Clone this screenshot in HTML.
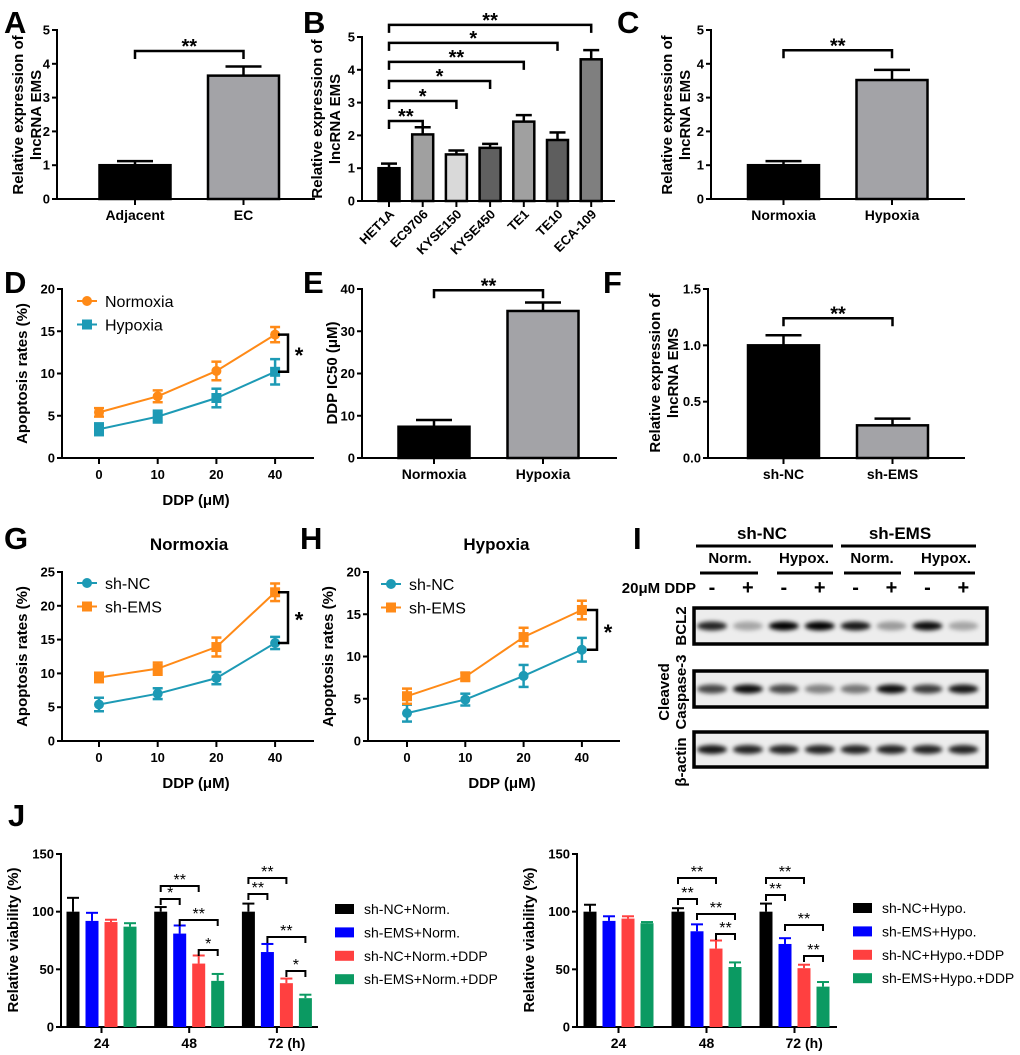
<!DOCTYPE html>
<html><head><meta charset="utf-8">
<style>
html,body{margin:0;padding:0;background:#fff;}
svg{display:block;font-family:"Liberation Sans",Arial,sans-serif;}
</style></head>
<body>
<svg id="fig" width="1020" height="1055" viewBox="0 0 1020 1055" xmlns="http://www.w3.org/2000/svg">
<defs><filter id="blur" x="-50%" y="-100%" width="200%" height="300%"><feGaussianBlur stdDeviation="2.2"/></filter></defs>
</svg>
<script>
// ---------- data ----------
const aCats=['Adjacent','EC']; const aVals=[1,3.65]; const aErrs=[0.12,0.27];
const bCats=['HET1A','EC9706','KYSE150','KYSE450','TE1','TE10','ECA-109'];
const bVals=[1,2.03,1.42,1.62,2.42,1.86,4.32]; const bErrs=[0.14,0.22,0.12,0.12,0.2,0.23,0.28];
const bSig=['**','*','*','**','*','**']; const bSigLevels=[2.44,3.05,3.66,4.24,4.82,5.37];
const cCats=['Normoxia','Hypoxia']; const cVals=[1,3.52]; const cErrs=[0.12,0.3];
const eCats=['Normoxia','Hypoxia']; const eVals=[7.4,34.8]; const eErrs=[1.6,2.0];
const fCats=['sh-NC','sh-EMS']; const fVals=[1.0,0.29]; const fErrs=[0.09,0.06];
const doses=['0','10','20','40'];
const dNorm=[5.4,7.3,10.3,14.6]; const dNormErr=[0.5,0.7,1.1,0.9];
const dHyp=[3.4,4.9,7.1,10.2]; const dHypErr=[0.7,0.7,1.1,1.5];
const gNC=[5.4,7.0,9.3,14.5]; const gNCErr=[1.0,0.8,0.9,0.9];
const gEMS=[9.4,10.7,13.9,22.0]; const gEMSErr=[0.7,0.9,1.4,1.3];
const hNC=[3.3,4.9,7.7,10.8]; const hNCErr=[1.0,0.7,1.3,1.4];
const hEMS=[5.3,7.6,12.3,15.5]; const hEMSErr=[0.9,0.5,1.1,1.1];
const jTimes=['24','48','72 (h)'];
const jL1=[100,100,100], jL1e=[12,4,7];
const jL2=[92,81,65], jL2e=[7,7,7];
const jL3=[91,55,38], jL3e=[2,7,4];
const jL4=[87,40,25], jL4e=[3,6,3];
const jR1=[100,100,100], jR1e=[6,3,7];
const jR2=[92,83,72], jR2e=[4,6,5];
const jR3=[94,68,51], jR3e=[2,7,3];
const jR4=[90,52,35], jR4e=[1,4,4];
const jLegL=['sh-NC+Norm.','sh-EMS+Norm.','sh-NC+Norm.+DDP','sh-EMS+Norm.+DDP'];
const jLegR=['sh-NC+Hypo.','sh-EMS+Hypo.','sh-NC+Hypo.+DDP','sh-EMS+Hypo.+DDP'];
const jSigL=[[1,0,1,'*',899],[1,0,2,'**',886],[1,1,3,'**',920],[1,2,3,'*',950],[2,0,1,'**',894],[2,0,2,'**',878],[2,1,3,'**',937],[2,2,3,'*',971]];
const jSigR=[[1,0,1,'**',899],[1,0,2,'**',878],[1,1,3,'**',914],[1,2,3,'**',934],[2,0,1,'**',895],[2,0,2,'**',878],[2,1,3,'**',925],[2,2,3,'**',956]];
const bcl2=[0.85,0.3,1,1,0.9,0.35,0.95,0.3];
const casp=[0.7,0.95,0.7,0.45,0.5,0.95,0.75,0.9];
const actin=[0.9,0.85,0.85,0.85,0.85,0.85,0.85,0.85];
const ddp=['-','+','-','+','-','+','-','+'];

// ---------- helpers ----------
const svg=document.getElementById('fig'); const NS='http://www.w3.org/2000/svg';
function mk(tag,attrs,name){const el=document.createElementNS(NS,tag);for(const k in attrs)el.setAttribute(k,attrs[k]);


svg.appendChild(el);return el;}
function txt(x,y,s,size,name,opt){opt=opt||{};const t=mk('text',{x:x,y:y,'font-size':size,'font-weight':opt.w||'bold','text-anchor':opt.a||'middle',fill:opt.f||'#000'},name);if(opt.rot!==undefined)t.setAttribute('transform','rotate('+opt.rot+' '+x+' '+y+')');t.textContent=s;return t;}
function line(x1,y1,x2,y2,name,w,c){return mk('line',{x1:x1,y1:y1,x2:x2,y2:y2,stroke:c||'#000','stroke-width':w||2},name);}
function yAxis(ax,y0,yT,max,ticks,fmt,xEnd,id){
  const sc=v=>y0-v/max*(y0-yT);
  line(ax,yT-1,ax,y0,id+'-y-axis');line(ax-1,y0,xEnd,y0,id+'-x-axis');
  ticks.forEach(t=>{line(ax-5,sc(t),ax,sc(t),id+'-y-tick');txt(ax-7,sc(t)+4.5,fmt(t),13,id+'-y-tick-label',{a:'end'});});
  return sc;}
function bracket(x1,x2,y,s,name){mk('path',{d:'M'+x1+' '+(y+8)+'V'+y+'H'+x2+'V'+(y+8),fill:'none',stroke:'#000','stroke-width':2.5},name);txt((x1+x2)/2,y+2,s,20,name+'-stars');}
function ytitle(x,cy,lines,name,fs){lines.forEach((l,i)=>txt(x+i*18,cy,l,fs||15,name,{rot:-90}));}
function letter(x,y,s){txt(x,y,s,31,'panel-label-'+s,{a:'start'});}

function barPanel(c){
  const sc=yAxis(c.ax,c.y0,c.yT,c.max,c.ticks,c.fmt,c.xEnd,c.id);
  c.vals.forEach((v,i)=>{const cx=c.x0+i*c.step;
    const top=sc(v),et=sc(v+c.errs[i]);
    line(cx,top,cx,et,c.id+'-error-bar',2.5);line(cx-c.cap/2,et,cx+c.cap/2,et,c.id+'-error-cap',2.5);
    mk('rect',{x:cx-c.bw/2,y:top,width:c.bw,height:c.y0-top,fill:c.colors[i],stroke:'#000','stroke-width':2.5},c.id+'-bar-'+c.cats[i].toLowerCase());
    line(cx,c.y0,cx,c.y0+6,c.id+'-x-tick');
    if(c.rot){txt(cx+6,c.y0+14,c.cats[i],13,c.id+'-x-label',{a:'end',rot:-45});}
    else txt(cx,c.y0+21,c.cats[i],14,c.id+'-x-label');
  });
  return sc;}

// ---------- A ----------
letter(4,33,'A');
let sA=barPanel({id:'a',ax:57,y0:199,yT:30,max:5,ticks:[0,1,2,3,4,5],fmt:t=>t,xEnd:315,vals:aVals,errs:aErrs,cats:aCats,colors:['#000','#a3a3a7'],x0:135,step:108.5,bw:71,cap:36});
bracket(135,243.5,sA(4.38),'**','a-significance');
ytitle(23,115,['Relative expression of','lncRNA EMS'],'a-y-title');
// ---------- B ----------
letter(303,33,'B');
let sB=barPanel({id:'b',ax:362,y0:201,yT:37,max:5,ticks:[0,1,2,3,4,5],fmt:t=>t,xEnd:615,vals:bVals,errs:bErrs,cats:bCats,colors:['#000','#a0a0a0','#d9d9d9','#606060','#a0a0a0','#5e5e5e','#7f7f7f'],x0:389,step:33.7,bw:21,cap:16,rot:true});
bSig.forEach((s,i)=>bracket(389,389+(i+1)*33.7,sB(bSigLevels[i]),s,'b-significance'));
ytitle(322,119,['Relative expression of','lncRNA EMS'],'b-y-title');
// ---------- C ----------
letter(617,33,'C');
let sC=barPanel({id:'c',ax:711,y0:199,yT:30,max:5,ticks:[0,1,2,3,4,5],fmt:t=>t,xEnd:965,vals:cVals,errs:cErrs,cats:cCats,colors:['#000','#a3a3a7'],x0:783.5,step:108.5,bw:71,cap:36});
bracket(783.5,892,sC(4.4),'**','c-significance');
ytitle(672,115,['Relative expression of','lncRNA EMS'],'c-y-title');
// ---------- E ----------
letter(303,293,'E');
let sE=barPanel({id:'e',ax:362,y0:458,yT:289,max:40,ticks:[0,10,20,30,40],fmt:t=>t,xEnd:617,vals:eVals,errs:eErrs,cats:eCats,colors:['#000','#a3a3a7'],x0:434,step:109,bw:71,cap:36});
bracket(434,543,sE(39.7),'**','e-significance');
ytitle(337,373,['DDP IC50 (μM)'],'e-y-title');
// ---------- F ----------
letter(603,293,'F');
let sF=barPanel({id:'f',ax:708,y0:458,yT:289,max:1.5,ticks:[0,0.5,1,1.5],fmt:t=>t.toFixed(1),xEnd:965,vals:fVals,errs:fErrs,cats:fCats,colors:['#000','#a3a3a7'],x0:783.5,step:109,bw:71,cap:36});
bracket(783.5,892.5,sF(1.24),'**','f-significance');
ytitle(660,373,['Relative expression of','lncRNA EMS'],'f-y-title');

// ---------- line charts ----------
function linePanel(c){
  const sc=yAxis(c.ax,c.y0,c.yT,c.max,c.ticks,t=>t,c.xEnd,c.id);
  const xs=i=>c.x0+i*c.step;
  doses.forEach((d,i)=>{line(xs(i),c.y0,xs(i),c.y0+6,c.id+'-x-tick');txt(xs(i),c.y0+21,d,13,c.id+'-x-label');});
  txt((c.ax+c.xEnd)/2+8,c.y0+47,'DDP (μM)',15,c.id+'-x-title');
  c.series.forEach((s,k)=>{
    mk('polyline',{points:s.v.map((v,i)=>xs(i)+','+sc(v)).join(' '),fill:'none',stroke:s.col,'stroke-width':2},c.id+'-line-'+s.name);
    s.v.forEach((v,i)=>{const x=xs(i),a=sc(v+s.e[i]),b=sc(v-s.e[i]);
      line(x,a,x,b,c.id+'-error-bar',2.5,s.col);line(x-5,a,x+5,a,c.id+'-error-cap',2.5,s.col);line(x-5,b,x+5,b,c.id+'-error-cap',2.5,s.col);
      if(s.m==='c')mk('circle',{cx:x,cy:sc(v),r:5,fill:s.col},c.id+'-point-'+s.name);
      else mk('rect',{x:x-5,y:sc(v)-5,width:10,height:10,fill:s.col},c.id+'-point-'+s.name);});
    const ly=c.legY+k*23.5;
    line(c.legX,ly,c.legX+20,ly,c.id+'-legend-line',2,s.col);
    if(s.m==='c')mk('circle',{cx:c.legX+10,cy:ly,r:5,fill:s.col},c.id+'-legend-marker');else mk('rect',{x:c.legX+5,y:ly-5,width:10,height:10,fill:s.col},c.id+'-legend-marker');
    txt(c.legX+28,ly+6,s.name,16,c.id+'-legend-entry',{a:'start',w:'normal'});
  });
  const hi=Math.max(c.series[0].v[3],c.series[1].v[3]),lo=Math.min(c.series[0].v[3],c.series[1].v[3]);
  mk('path',{d:'M'+(c.bx-10)+' '+sc(hi)+'H'+c.bx+'V'+sc(lo)+'H'+(c.bx-10),fill:'none',stroke:'#000','stroke-width':2.5},c.id+'-significance');
  txt(c.bx+11,(sc(hi)+sc(lo))/2+10,'*',22,c.id+'-significance-star');
  ytitle(c.ax-35,(c.y0+c.yT)/2,['Apoptosis rates (%)'],c.id+'-y-title');
  if(c.title)txt(c.x0+c.step*1.5+2,c.yT-22,c.title,17,c.id+'-title');
}
const ORG='#ff8a17',TEAL='#1d9ab5';
letter(4,293,'D');
linePanel({id:'d',ax:62,y0:458,yT:289,max:20,ticks:[0,5,10,15,20],xEnd:314,x0:99,step:58.7,legX:77,legY:301,bx:288,
  series:[{name:'Normoxia',v:dNorm,e:dNormErr,col:ORG,m:'c'},{name:'Hypoxia',v:dHyp,e:dHypErr,col:TEAL,m:'s'}]});
letter(4,549,'G');
linePanel({id:'g',ax:62,y0:741,yT:572,max:25,ticks:[0,5,10,15,20,25],xEnd:314,x0:99,step:58.7,legX:77,legY:583,bx:288,title:'Normoxia',
  series:[{name:'sh-NC',v:gNC,e:gNCErr,col:TEAL,m:'c'},{name:'sh-EMS',v:gEMS,e:gEMSErr,col:ORG,m:'s'}]});
letter(300,549,'H');
linePanel({id:'h',ax:368,y0:741,yT:572,max:20,ticks:[0,5,10,15,20],xEnd:620,x0:407,step:58.3,legX:381,legY:584,bx:597,title:'Hypoxia',
  series:[{name:'sh-NC',v:hNC,e:hNCErr,col:TEAL,m:'c'},{name:'sh-EMS',v:hEMS,e:hEMSErr,col:ORG,m:'s'}]});

// ---------- I western blot ----------
letter(633,549,'I');
txt(762,539,'sh-NC',17,'i-group-sh-nc');txt(900,539,'sh-EMS',17,'i-group-sh-ems');
line(696,546,833,546,'i-group-line',3);line(841,546,976,546,'i-group-line',3);
[[730,'Norm.'],[804,'Hypox.'],[872,'Norm.'],[946,'Hypox.']].forEach(p=>txt(p[0],563,p[1],15,'i-condition-label'));
[[700,758],[777,833],[844,901],[914,975]].forEach(p=>line(p[0],573,p[1],573,'i-condition-line',3));
txt(696,593,'20μM DDP',15,'i-ddp-label',{a:'end'});
const lanes=i=>712+i*35.9;
ddp.forEach((s,i)=>txt(lanes(i),594,s,20,'i-ddp-sign'));
function blot(vals,y1,y2,name,lbl,lcy){
  mk('rect',{x:694,y:y1,width:293,height:y2-y1,fill:'#ededed',stroke:'#000','stroke-width':3.5},name+'-box');
  const cy=(y1+y2)/2;
  vals.forEach((v,i)=>mk('ellipse',{cx:lanes(i),cy:cy,rx:15,ry:4.5,fill:'#000','fill-opacity':v,filter:'url(#blur)'},name+'-band'));
  lbl.forEach((l,k)=>txt(lbl.length===2?669+k*17:686,lcy,l,15,name+'-label',{rot:-90}));
}
blot(bcl2,608,644,'i-bcl2',['BCL2'],626);
blot(casp,671,707,'i-caspase3',['Cleaved','Caspase-3'],692);
blot(actin,732,767,'i-actin',['β-actin'],762);

// ---------- J ----------
letter(8,826,'J');
const JC=['#000','#0000ff','#ff4040','#0b9a62'];
function jPanel(c){
  const sc=yAxis(c.ax,1027,854,150,[0,50,100,150],t=>t,c.xEnd,c.id);
  const bx=(g,j)=>c.x0+g*c.gs+j*19;
  c.sets.forEach((vals,j)=>vals.forEach((v,g)=>{const x=bx(g,j),t=sc(v),et=sc(v+c.errs[j][g]);
    line(x,t,x,et,c.id+'-error-bar',2,JC[j]);line(x-6,et,x+6,et,c.id+'-error-cap',2,JC[j]);
    mk('rect',{x:x-6.5,y:t,width:13,height:1027-t,fill:JC[j]},c.id+'-bar');}));
  jTimes.forEach((s,g)=>{const x=bx(g,1.5);line(x,1027,x,1033,c.id+'-x-tick');
    if(g===2)txt(x-9,1048,s,14,c.id+'-x-label',{a:'start'});else txt(x,1048,s,14,c.id+'-x-label');});
  c.sig.forEach(s=>{const x1=bx(s[0],s[1]),x2=bx(s[0],s[2]);
    mk('path',{d:'M'+x1+' '+(s[4]+6)+'V'+s[4]+'H'+x2+'V'+(s[4]+6),fill:'none',stroke:'#000','stroke-width':2},c.id+'-significance');
    txt((x1+x2)/2,s[4]-1,s[3],16,c.id+'-significance-stars',{w:'normal'});});
  c.leg.forEach((l,j)=>{const y=c.legY+j*23.4;mk('rect',{x:c.legX,y:y-5,width:19,height:10,fill:JC[j]},c.id+'-legend-swatch');
    txt(c.legX+29,y+5,l,14,c.id+'-legend-entry',{a:'start',w:'normal'});});
  ytitle(c.ax-43,940,['Relative viability (%)'],c.id+'-y-title');
}
jPanel({id:'j-left',ax:61,xEnd:318,x0:73,gs:87.7,sets:[jL1,jL2,jL3,jL4],errs:[jL1e,jL2e,jL3e,jL4e],sig:jSigL,leg:jLegL,legX:335,legY:909});
jPanel({id:'j-right',ax:577,xEnd:837,x0:590,gs:88,sets:[jR1,jR2,jR3,jR4],errs:[jR1e,jR2e,jR3e,jR4e],sig:jSigR,leg:jLegR,legX:853,legY:908});
</script>
</body></html>
